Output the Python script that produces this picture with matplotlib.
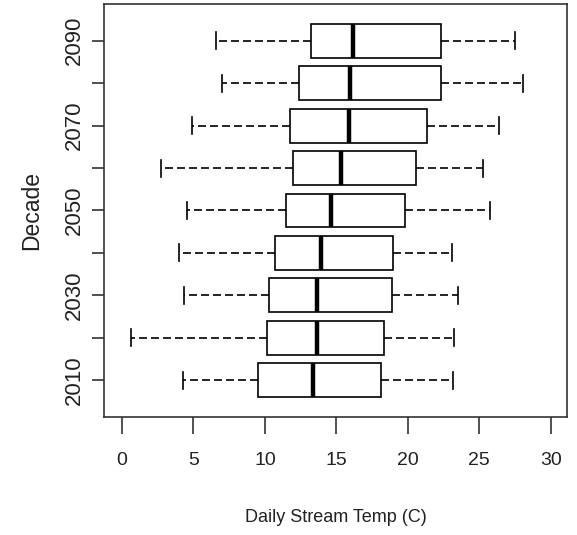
import matplotlib
matplotlib.use('Agg')
import matplotlib.pyplot as plt

# Decade boxplots of daily stream temperature
decades = ['2010', '2020', '2030', '2040', '2050', '2060', '2070', '2080', '2090']
whisker_lo = [4.25, 0.61, 4.34, 4.01, 4.55, 2.75, 4.88, 7.00, 6.58]
q1 = [9.50, 10.12, 10.29, 10.68, 11.45, 11.94, 11.78, 12.41, 13.20]
median = [13.39, 13.67, 13.67, 13.90, 14.60, 15.30, 15.86, 15.96, 16.19]
q3 = [18.15, 18.31, 18.87, 18.94, 19.78, 20.57, 21.37, 22.30, 22.30]
whisker_hi = [23.16, 23.23, 23.49, 23.09, 25.75, 25.29, 26.38, 28.08, 27.48]
x_ticks = [0, 5, 10, 15, 20, 25, 30]

plt.rcParams['font.family'] = ['Liberation Sans', 'DejaVu Sans']
plt.rcParams['text.color'] = '#222222'
plt.rcParams['xtick.labelcolor'] = '#222222'
plt.rcParams['ytick.labelcolor'] = '#222222'
plt.rcParams['axes.labelcolor'] = '#222222'

stats = []
for i, d in enumerate(decades):
    stats.append({'label': d, 'whislo': whisker_lo[i], 'q1': q1[i], 'med': median[i],
                  'q3': q3[i], 'whishi': whisker_hi[i], 'fliers': []})

fig = plt.figure(figsize=(5.77, 5.35), dpi=100)
ax = fig.add_axes([104 / 577, 118 / 535, 463 / 577, 413 / 535])

positions = list(range(1, len(decades) + 1))
ax.bxp(stats, positions=positions, vert=False, widths=0.8, showfliers=False,
       patch_artist=True,
       boxprops=dict(facecolor='white', edgecolor='black', linewidth=1.2),
       medianprops=dict(color='black', linewidth=3.2),
       whiskerprops=dict(color='black', linewidth=1.2, linestyle=(0, (4.8, 2.4))),
       capprops=dict(color='black', linewidth=1.2))

ax.set_xlim(-1.26, 31.14)
ax.set_ylim(0.14, 9.86)

ax.set_xticks(x_ticks)
ax.set_xticklabels([str(t) for t in x_ticks], fontsize=14)
ax.set_yticks(positions)
ax.set_yticklabels([d if i % 2 == 0 else '' for i, d in enumerate(decades)],
                   fontsize=16, rotation=90, va='center')

ax.tick_params(axis='x', length=12, width=1.2, pad=13, color='#333333')
ax.tick_params(axis='y', length=9, width=1.2, pad=5, color='#333333')
for sp in ax.spines.values():
    sp.set_linewidth(1.2)
    sp.set_color('#333333')

ax.set_xlabel('Daily Stream Temp (C)', fontsize=13, labelpad=29)
ax.set_ylabel('Decade', fontsize=16.5, labelpad=15)

fig.savefig('out.png', dpi=100)
